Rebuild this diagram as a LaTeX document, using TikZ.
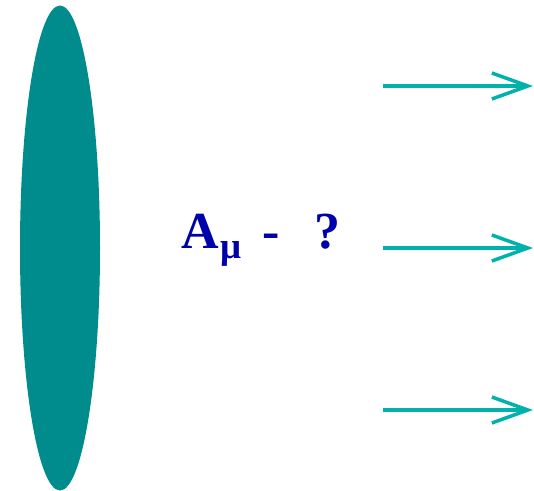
\documentclass[tikz,border=0pt]{standalone}
\usepackage{fontspec}
\setmainfont{Liberation Serif}
\usetikzlibrary{arrows.meta,shapes.geometric}
\definecolor{beamteal}{RGB}{0,140,140}
\definecolor{arrteal}{RGB}{0,178,170}
\definecolor{lblblue}{RGB}{0,0,170}

\begin{document}
\begin{tikzpicture}[x=1pt,y=-1pt,
  arr/.style={arrteal, line width=3.5pt,
    -{Straight Barb[length=36pt,width=26pt,line width=3.5pt]}},
  lbl/.style={text=lblblue, font=\fontsize{52}{60}\selectfont\bfseries,
    inner sep=0pt, anchor=base west},
]
\useasboundingbox (0,0) rectangle (534,490);

%% ---- Source ----
\node[ellipse, fill=beamteal, minimum width=80pt, minimum height=485pt,
  inner sep=0pt] (src) at (60,248) {};

%% ---- Label ----
\node[lbl] (amu) at (181,248)
  {A\hspace{2pt}\raisebox{-10pt}{\fontsize{37}{40}\selectfont μ}\hspace{21pt}-\hspace{34pt}?};

%% ---- Outgoing arrows ----
\coordinate (a1s) at (383,86);  \coordinate (a1e) at (533,86);
\coordinate (a2s) at (383,248); \coordinate (a2e) at (533,248);
\coordinate (a3s) at (383,410); \coordinate (a3e) at (533,410);
\draw[arr] (a1s) -- (a1e);
\draw[arr] (a2s) -- (a2e);
\draw[arr] (a3s) -- (a3e);

\end{tikzpicture}
\end{document}
